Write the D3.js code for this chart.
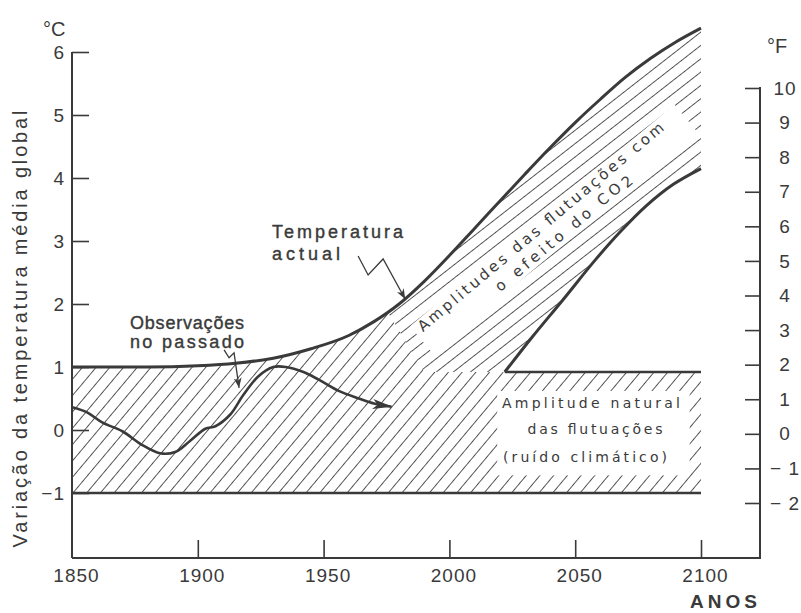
<!DOCTYPE html>
<html><head><meta charset="utf-8">
<script src="https://cdn.jsdelivr.net/npm/d3@7"></script>
<style>body{margin:0;background:#fff}svg{display:block}</style>
</head><body><svg id="c" width="801" height="613"></svg>
<script>
// ---- data ----
const upperYears = [1850,1880,1900,1915,1930,1945,1960,1970,1980,1990,2000,2010,2020,2030,2040,2050,2060,2070,2080,2090,2100];
const upperTemp  = [1.0,1.0,1.02,1.06,1.14,1.29,1.5,1.72,2.0,2.36,2.77,3.2,3.63,4.06,4.48,4.88,5.25,5.6,5.9,6.16,6.38];
const lowerYears = [2022,2033,2045,2058,2068,2078,2089,2100];
const lowerTemp  = [0.92,1.48,2.06,2.7,3.15,3.55,3.9,4.15];
const obsYears = [1850,1856,1862,1870,1878,1885,1891,1897,1903,1907,1913,1918,1924,1930,1935,1942,1948,1956,1964,1970,1977];
const obsTemp  = [0.36,0.28,0.12,-0.02,-0.24,-0.37,-0.35,-0.17,0.02,0.06,0.25,0.55,0.85,1.0,1.0,0.92,0.8,0.62,0.5,0.42,0.37];
const naturalYears = [2022, 2100];
const naturalTop = 0.92;
const bandBottom = -1;
const baseYears = [1850, 2100];
const celsiusTicks = [-1,0,1,2,3,4,5,6];
const fahrenheitTicks = [-2,-1,0,1,2,3,4,5,6,7,8,9,10];
const yearTicks = [1850,1900,1950,2000,2050,2100];

// ---- layout ----
const svg = d3.select('#c');
const x  = d3.scaleLinear().domain([1850,2100]).range([72,701]);
const yC = d3.scaleLinear().domain([-1,6]).range([493,52]);
const yF = d3.scaleLinear().domain([-2,10]).range([503,88]);
const axisY = 558, rightX = 760;
const ink = '#3a3a3a';
const tickFont = '"Liberation Sans", Arial, sans-serif';
const bandFont = '"DejaVu Sans", sans-serif';

const defs = svg.append('defs');
function hatch(id, s, angle){
  const p = defs.append('pattern').attr('id',id).attr('patternUnits','userSpaceOnUse')
    .attr('width',s).attr('height',s).attr('patternTransform',`rotate(${angle})`);
  p.append('rect').attr('width',s).attr('height',s).attr('fill','#fff');
  p.append('line').attr('x1',s/2).attr('x2',s/2).attr('y1',-1).attr('y2',s+1)
    .attr('stroke','#505050').attr('stroke-width',1);
}
hatch('hB', 10.5, 40);
hatch('hC', 10.5, 52);

const mk = defs.append('marker').attr('id','arr').attr('markerUnits','userSpaceOnUse')
  .attr('viewBox','0 0 20 10').attr('refX',19).attr('refY',5)
  .attr('markerWidth',20).attr('markerHeight',10).attr('orient','auto');
mk.append('path').attr('d','M0,0 L20,5 L0,10 L5,5 Z').attr('fill',ink);
const mk2 = defs.append('marker').attr('id','arrs').attr('markerUnits','userSpaceOnUse')
  .attr('viewBox','0 0 10 8').attr('refX',10).attr('refY',4)
  .attr('markerWidth',10).attr('markerHeight',8).attr('orient','auto');
mk2.append('path').attr('d','M0,0 L10,4 L0,8 L3,4 Z').attr('fill',ink);

const upperData = upperYears.map((d,i)=>[d, upperTemp[i]]);
const lowerData = lowerYears.map((d,i)=>[d, lowerTemp[i]]);
const obsData   = obsYears.map((d,i)=>[d, obsTemp[i]]);
const curve = d3.curveMonotoneX;
const curveObs = d3.curveCatmullRom.alpha(0.5);

const underUpper = d3.area().x(d=>x(d[0])).y0(yC(bandBottom)).y1(d=>yC(d[1])).curve(curve);
const line = d3.line().x(d=>x(d[0])).y(d=>yC(d[1])).curve(curve);
const lineObs = d3.line().x(d=>x(d[0])).y(d=>yC(d[1])).curve(curveObs);

// CO2 band hatch (whole area below upper curve)
svg.append('path').attr('d', underUpper(upperData)).attr('fill','url(#hC)');
// base (natural) hatch
defs.append('clipPath').attr('id','baseClip').append('path')
  .attr('d', d3.line()([[x(1850),0],[x(1975),0],[x(1975),yC(1.9)],[x(1990),yC(naturalTop)],
    [x(2101),yC(naturalTop)],[x(2101),yC(-1.5)],[x(1850),yC(-1.5)]])+'Z');
svg.append('path').attr('d', underUpper(upperData)).attr('fill','url(#hB)').attr('clip-path','url(#baseClip)');
// white gap between lower CO2 curve and natural band
svg.append('path').attr('d', d3.area().x(d=>x(d[0])).y0(yC(naturalTop)).y1(d=>yC(d[1])).curve(curveObs)(lowerData))
  .attr('fill','#fff').attr('stroke','#fff').attr('stroke-width',1.5);

// white strip with the CO2 text
defs.append('clipPath').attr('id','upClip').append('path').attr('d', underUpper(upperData));
const t0 = [x(1989.5), yC(1.55)];
const strip = svg.append('g').attr('clip-path','url(#upClip)')
  .append('g').attr('transform',`translate(${t0[0]},${t0[1]}) rotate(-40)`);
strip.append('rect').attr('x',-6).attr('y',-13).attr('width',345).attr('height',36).attr('fill','#fff');

// white box in natural band
svg.append('rect').attr('x',x(2019)).attr('y',yC(0.62)).attr('width',x(2095.5)-x(2019))
  .attr('height',yC(-0.72)-yC(0.62)).attr('fill','#fff');

// lines
svg.append('path').attr('d', line(upperData)).attr('fill','none').attr('stroke',ink).attr('stroke-width',3);
svg.append('path').attr('d', lineObs(lowerData)).attr('fill','none').attr('stroke',ink).attr('stroke-width',3);
svg.append('line').attr('x1',x(naturalYears[0])).attr('x2',x(naturalYears[1]))
  .attr('y1',yC(naturalTop)).attr('y2',yC(naturalTop)).attr('stroke',ink).attr('stroke-width',2.5);
svg.append('line').attr('x1',x(baseYears[0])).attr('x2',x(baseYears[1]))
  .attr('y1',yC(bandBottom)).attr('y2',yC(bandBottom)).attr('stroke',ink).attr('stroke-width',2.5);
svg.append('path').attr('d', lineObs(obsData)).attr('fill','none').attr('stroke',ink).attr('stroke-width',2.6)
  .attr('marker-end','url(#arr)');

// axes
const left = svg.append('g').attr('transform',`translate(${x(1850)},0)`)
  .call(d3.axisLeft(yC).tickValues(celsiusTicks).tickSize(-17).tickPadding(7).tickFormat(d=>d<0?'−'+(-d):d));
left.select('.domain').remove();
left.append('line').attr('x1',0).attr('x2',0).attr('y1',yC(6)).attr('y2',axisY).attr('stroke',ink).attr('stroke-width',2);
const bottom = svg.append('g').attr('transform',`translate(0,${axisY})`)
  .call(d3.axisBottom(x).tickValues(yearTicks).tickSize(-18).tickPadding(11).tickFormat(d3.format('d')));
bottom.select('.domain').remove();
bottom.append('line').attr('x1',x(1850)).attr('x2',rightX).attr('y1',0).attr('y2',0).attr('stroke',ink).attr('stroke-width',2);
bottom.selectAll('.tick text').attr('dx',4);
const right = svg.append('g').attr('transform',`translate(${rightX},0)`)
  .call(d3.axisRight(yF).tickValues(fahrenheitTicks).tickSize(-15).tickPadding(25).tickFormat(d=>d<0?'− '+(-d):d));
right.select('.domain').remove();
right.selectAll('.tick text').attr('text-anchor','middle');
right.append('line').attr('x1',0).attr('x2',0).attr('y1',yF(10)-1).attr('y2',axisY+1).attr('stroke',ink).attr('stroke-width',2);
[left,bottom,right].forEach(g=>{
  g.selectAll('.tick line').attr('stroke',ink).attr('stroke-width',1.6);
  g.selectAll('.tick text').attr('fill',ink).style('font-family',tickFont).style('font-size','19px').style('letter-spacing','1px');
});
bottom.selectAll('.tick').filter(d=>d===1850).select('line').remove();

// texts
function txt(s, px, py, opts={}){
  const t = svg.append('text').attr('x',px).attr('y',py).text(s).attr('fill',ink)
    .style('font-family',opts.font||tickFont).style('font-size',(opts.size||18)+'px');
  if(opts.len) t.attr('textLength',opts.len).attr('lengthAdjust','spacing');
  if(opts.anchor) t.attr('text-anchor',opts.anchor);
  if(opts.weight) t.style('font-weight',opts.weight);
  if(opts.thick) t.attr('stroke',ink).attr('stroke-width',opts.thick);
  return t;
}
txt('°C', 43, 36, {size:20});
txt('°F', 767, 53, {size:20});
txt('ANOS', 690, 608, {size:19, weight:'bold', len:67});
svg.append('text').attr('transform','translate(27,329) rotate(-90)').attr('text-anchor','middle')
  .attr('textLength',437).attr('lengthAdjust','spacing')
  .attr('fill',ink).style('font-family',tickFont).style('font-size','20px')
  .text('Variação da temperatura média global');

txt('Temperatura', 272, 238, {size:18, len:131, thick:0.4});
txt('actual', 272, 260, {size:18, len:68, thick:0.4});
txt('Observações', 130, 329, {size:18, len:114, thick:0.4});
txt('no passado', 130, 348, {size:18, len:114, thick:0.4});

// zigzag pointers
const tipA = [x(1982.4), yC(2.08)];
svg.append('path').attr('d', d3.line()([[tipA[0]-47,tipA[1]-43],[tipA[0]-37,tipA[1]-24],[tipA[0]-22,tipA[1]-40],tipA]))
  .attr('fill','none').attr('stroke',ink).attr('stroke-width',1.3).attr('marker-end','url(#arrs)');
const tipB = [x(1916.4), yC(0.67)];
svg.append('path').attr('d', d3.line()([[tipB[0]-15,tipB[1]-38],[tipB[0]-10,tipB[1]-30],[tipB[0]-5,tipB[1]-35],tipB]))
  .attr('fill','none').attr('stroke',ink).attr('stroke-width',1.3).attr('marker-end','url(#arrs)');

// CO2 band texts
strip.append('text').attr('x',0).attr('y',0).attr('textLength',316).attr('lengthAdjust','spacing')
  .attr('fill',ink).style('font-family',bandFont).style('font-size','15px')
  .text('Amplitudes das flutuações com');
const l2 = strip.append('text').attr('x',85).attr('y',19).attr('textLength',173).attr('lengthAdjust','spacing')
  .attr('fill',ink).style('font-family',bandFont).style('font-size','15px');
l2.append('tspan').text('o efeito do CO');
l2.append('tspan').attr('dy',2).text('2');

// natural band texts
txt('Amplitude natural', 591, 408, {font:bandFont, size:14, len:178, anchor:'middle'});
txt('das flutuações', 595, 434, {font:bandFont, size:14, len:135, anchor:'middle'});
txt('(ruído climático)', 585, 462, {font:bandFont, size:14, len:164, anchor:'middle'});
</script></body></html>
